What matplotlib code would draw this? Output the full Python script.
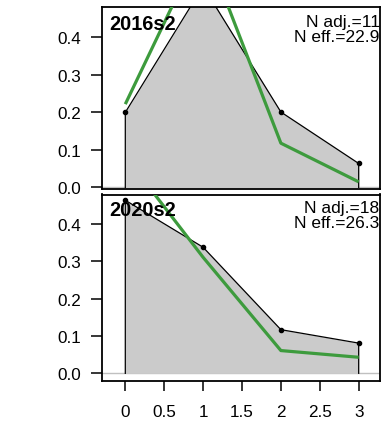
import matplotlib
matplotlib.use("Agg")
import matplotlib.pyplot as plt

plt.rcParams['font.family'] = ['Liberation Sans', 'DejaVu Sans']

# age bins and the two sampled years
bins = [0, 1, 2, 3]
years = ['2016s2', '2020s2']
obs_2016 = [0.200, 0.536, 0.201, 0.064]
exp_2016 = [0.222, 0.655, 0.118, 0.015]
obs_2020 = [0.464, 0.338, 0.117, 0.081]
exp_2020 = [0.582, 0.311, 0.061, 0.043]
n_adj = [11, 18]
n_eff = [22.9, 26.3]

W, H = 383, 427
fig = plt.figure(figsize=(W / 100, H / 100), dpi=100)

def px_axes(left, top, right, bottom):
    return fig.add_axes([left / W, (H - bottom) / H, (right - left) / W, (bottom - top) / H])

panels = [
    (px_axes(102, 8, 380, 189.5), obs_2016, exp_2016, (-0.0027, 0.4807), 30.5, 27.3, 41.7),
    (px_axes(102, 195.5, 380, 382), obs_2020, exp_2020, (-0.0206, 0.4794), 216.0, 213.3, 227.7),
]

green = '#3d9b3d'
for i, (ax, obs, exp, ylim, ty, ay, ey) in enumerate(panels):
    ax.axhline(0, color='#c0c0c0', lw=1.0, zorder=1)
    ax.fill_between(bins, obs, 0, color='#cbcbcb', lw=0, zorder=2)
    ax.plot([bins[0]] + bins + [bins[-1]], [0] + obs + [0], color='black', lw=0.9, zorder=3)
    ax.plot(bins, exp, color=green, lw=2.3, zorder=4, solid_capstyle='butt')
    ax.plot(bins, obs, 'o', color='black', ms=3, zorder=5)
    ax.set_xlim(-0.2995, 3.274)
    ax.set_ylim(*ylim)
    ax.set_yticks([0, 0.1, 0.2, 0.3, 0.4])
    ax.set_yticklabels(['0.0', '0.1', '0.2', '0.3', '0.4'])
    ax.tick_params(axis='y', direction='out', length=8, width=1.1, pad=7, labelsize=12.3)
    if i == 1:
        ax.set_xticks([0, 0.5, 1, 1.5, 2, 2.5, 3])
        ax.set_xticklabels(['0', '0.5', '1', '1.5', '2', '2.5', '3'])
        ax.tick_params(axis='x', direction='out', length=7.5, width=1.1, pad=9, labelsize=12.3)
    else:
        ax.set_xticks([])
    for s in ax.spines.values():
        s.set_linewidth(1.3)
    fig.text(109 / W, (H - ty) / H, years[i], fontsize=14.3, fontweight='bold',
             ha='left', va='baseline', zorder=10)
    fig.text(379.5 / W, (H - ay) / H, 'N adj.=%d' % n_adj[i], fontsize=12.5,
             ha='right', va='baseline')
    fig.text(379.5 / W, (H - ey) / H, 'N eff.=%.1f' % n_eff[i], fontsize=12.5,
             ha='right', va='baseline')

fig.savefig('out.png', dpi=100)
